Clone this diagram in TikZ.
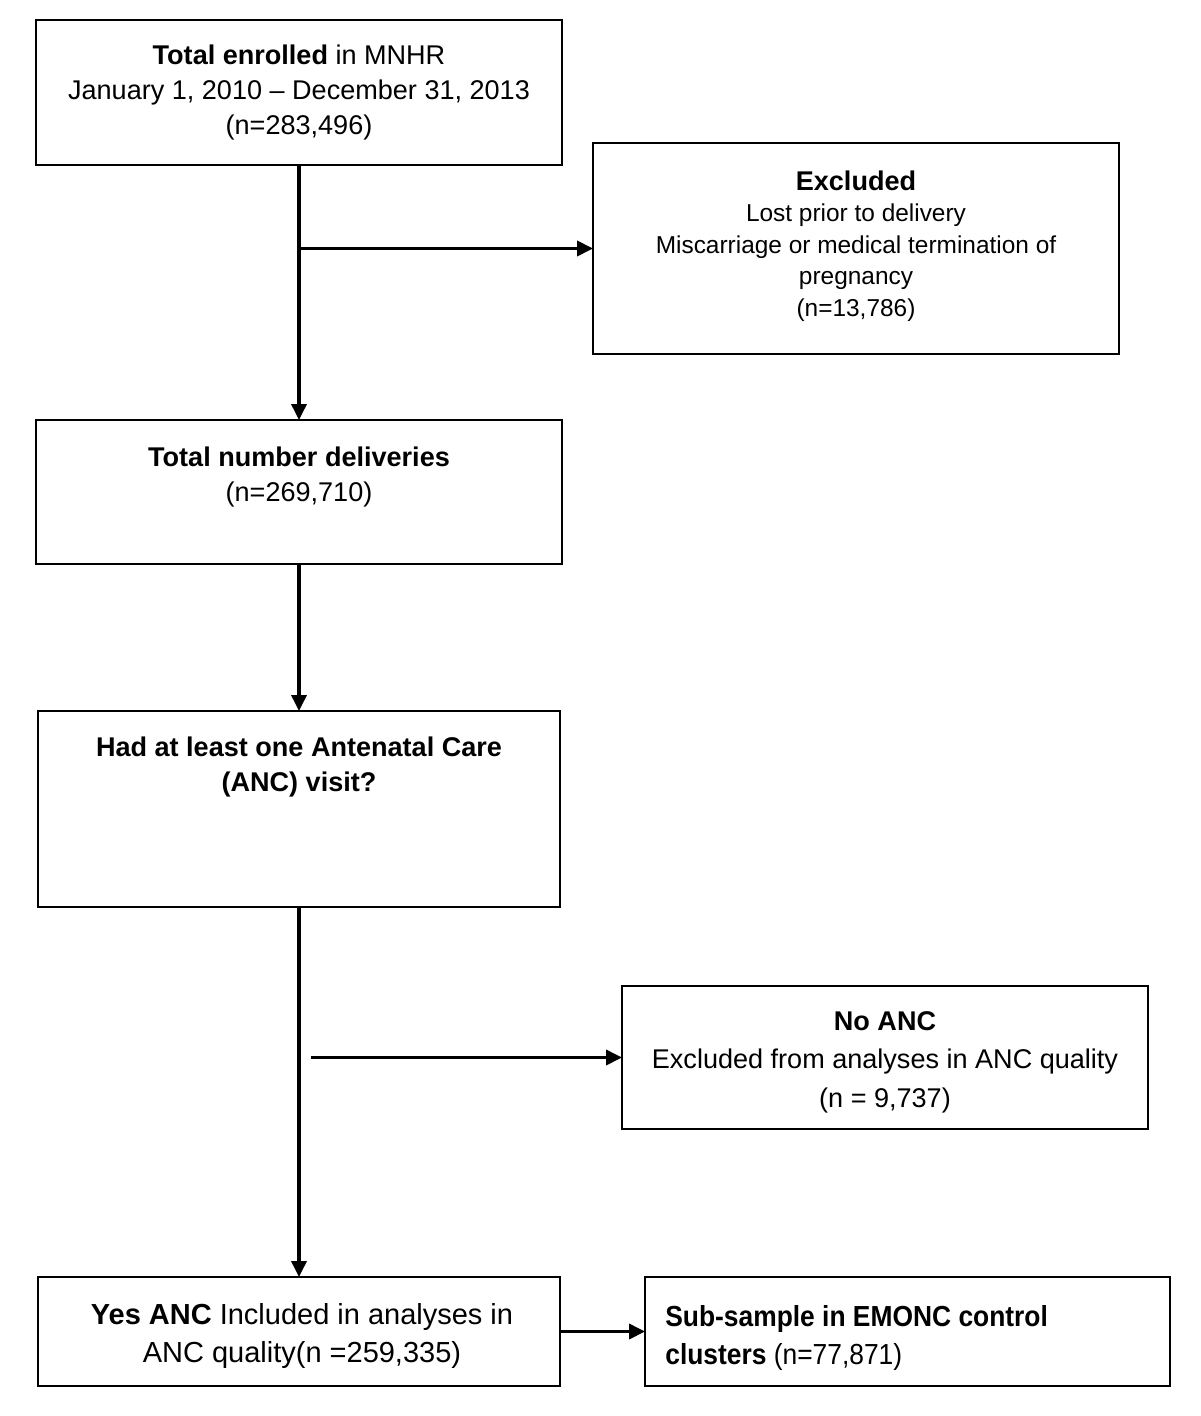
\documentclass[tikz,border=0pt]{standalone}
\usepackage{fontspec}
\setmainfont{Liberation Sans}
\newfontfamily\narrowsans[FakeStretch=0.91]{Liberation Sans}
\usetikzlibrary{positioning}
\usetikzlibrary{arrows.meta}

\begin{document}
\begin{tikzpicture}[%
  x=0.02cm, y=-0.02cm,
  box/.style={draw, line width=1.3pt, inner sep=0pt, outer sep=0pt, align=center},
  txt/.style={inner sep=0pt, align=center, font=\fontsize{15.4}{19.6}\selectfont},
  link/.style={line width=2pt, -{Triangle[length=0.32cm,width=0.3cm]}},
]
  \useasboundingbox (0,0) rectangle (1200,1416);

  \node[box, minimum width=10.52cm, minimum height=2.9cm,
        font=\fontsize{15.4}{20.2}\selectfont] (enrol) at (299,92.5)
    {\textbf{Total enrolled} in MNHR\\January 1, 2010 – December 31, 2013\\(n=283,496)};

  \node[box, minimum width=10.52cm, minimum height=4.22cm] (excl) at (856,248.5) {};
  \node[txt, font=\fontsize{13.9}{17.9}\selectfont] (excltxt) at (856,246)
    {\textbf{\fontsize{15.4}{17.9}\selectfont Excluded}\\Lost prior to delivery\\
     Miscarriage or medical termination of\\pregnancy\\(n=13,786)};

  \node[box, minimum width=10.52cm, minimum height=2.88cm] (deliv) at (299,492) {};
  \node[txt, anchor=north] (delivtxt) at (299,447)
    {\textbf{Total number deliveries}\\(n=269,710)};

  \node[box, minimum width=10.44cm, minimum height=3.92cm] (anc) at (299,809) {};
  \node[txt, anchor=north] (anctxt) at (299,737)
    {\textbf{Had at least one Antenatal Care}\\\textbf{(ANC) visit?}};

  \node[box, minimum width=10.52cm, minimum height=2.86cm] (noanc) at (885,1057.5) {};
  \node[txt, font=\fontsize{15.4}{22}\selectfont] (noanctxt) at (885,1062)
    {\textbf{No ANC}\\Excluded from analyses in ANC quality\\(n = 9,737)};

  \node[box, minimum width=10.44cm, minimum height=2.18cm] (yes) at (299,1331.5) {};
  \node[txt, font=\fontsize{16.5}{21.6}\selectfont] (yestxt) at (302,1336)
    {\textbf{Yes ANC} Included in analyses in\\ANC quality(n =259,335)};

  \node[box, minimum width=10.5cm, minimum height=2.18cm] (sub) at (907.5,1331.5) {};
  \node[txt, anchor=west, align=left,
        font=\narrowsans\fontsize{16.5}{21.6}\selectfont] (subtxt) at (665,1338)
    {\textbf{Sub-sample in EMONC control}\\\textbf{clusters} (n=77,871)};

  \coordinate (split) at (311,1057.5);

  \draw[link] (enrol.south) -- (deliv.north);
  \draw[link] (enrol.south |- excl.west) -- (excl.west);
  \draw[link] (deliv.south) -- (anc.north);
  \draw[link] (anc.south) -- (yes.north);
  \draw[link] (split) -- (noanc.west);
  \draw[link] (yes.east) -- (sub.west);

\end{tikzpicture}
\end{document}
